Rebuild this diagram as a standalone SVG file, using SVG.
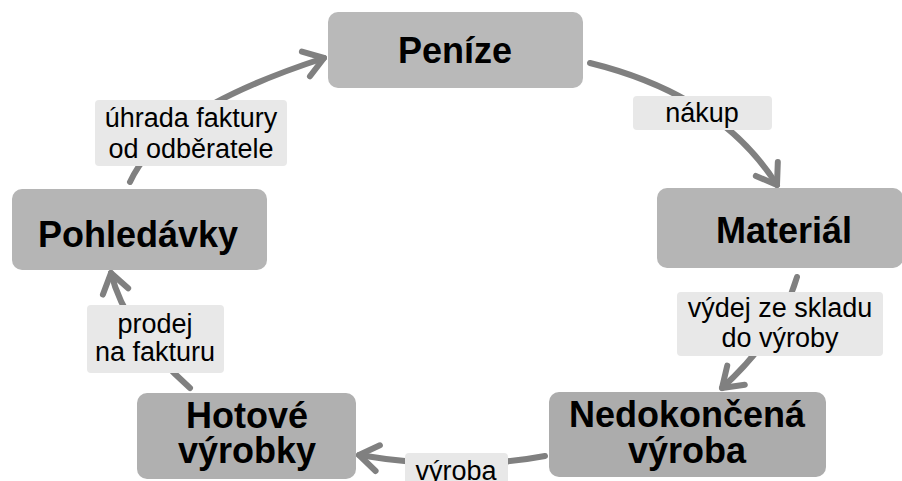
<svg xmlns="http://www.w3.org/2000/svg" width="902" height="481" viewBox="0 0 902 481">
<style>
.node rect{stroke:none}
.nt{font-family:"Liberation Sans",Arial,sans-serif;font-weight:bold;font-size:36px;fill:#000;text-anchor:middle}
.lb rect{fill:#e8e8e8}
.lt{font-family:"Liberation Sans",Arial,sans-serif;font-size:27px;fill:#000;text-anchor:middle}
.conn path{fill:none;stroke:#808080;stroke-width:6;stroke-linecap:round;marker-end:url(#arr)}
</style>
<defs>
<marker id="arr" markerUnits="userSpaceOnUse" markerWidth="40" markerHeight="40" viewBox="-30 -20 40 40" refX="0" refY="0" orient="auto" overflow="visible">
<path d="M-19,-13 L0,0 L-19,13" fill="none" stroke="#808080" stroke-width="6" stroke-linecap="round" stroke-linejoin="round"/>
</marker>
</defs>
<rect width="902" height="481" fill="#fff"/>
<g class="conn" id="connectors">
<path d="M590,63 Q720,95 777,185"/>
<path d="M797,277 Q780,335 722,388"/>
<path d="M545,456 Q460,472 359,455"/>
<path d="M190,388 Q125,330 111,273"/>
<path d="M130,182 C145,150 180,105 324,58"/>
</g>
<g class="lb" id="label-nakup"><rect x="633" y="96" width="139" height="34" rx="4"/><text class="lt" x="702" y="122">nákup</text></g>
<g class="lb" id="label-vydej"><rect x="677" y="292" width="206" height="64" rx="4"/><text class="lt" x="780" y="317">výdej ze skladu</text><text class="lt" x="780" y="347">do výroby</text></g>
<g class="lb" id="label-vyroba"><rect x="405" y="453" width="103" height="35" rx="4"/><text class="lt" x="456" y="480">výroba</text></g>
<g class="lb" id="label-prodej"><rect x="87" y="305" width="137" height="68" rx="4"/><text class="lt" x="155" y="333">prodej</text><text class="lt" x="155" y="361">na fakturu</text></g>
<g class="lb" id="label-uhrada"><rect x="95" y="100" width="192" height="66" rx="4"/><text class="lt" x="191" y="127">úhrada faktury</text><text class="lt" x="191" y="158">od odběratele</text></g>
<g class="node" id="node-penize"><rect x="328" y="12" width="255" height="76" rx="10" fill="#b9b9b9"/><text class="nt" x="455" y="63">Peníze</text></g>
<g class="node" id="node-material"><rect x="657" y="188" width="246" height="80" rx="10" fill="#b5b5b5"/><text class="nt" x="784" y="243">Materiál</text></g>
<g class="node" id="node-nedokoncena"><rect x="549" y="392" width="277" height="85" rx="10" fill="#acacac"/><text class="nt" x="687" y="427">Nedokončená</text><text class="nt" x="687" y="463">výroba</text></g>
<g class="node" id="node-hotove"><rect x="137" y="393" width="219" height="86" rx="10" fill="#b0b0b0"/><text class="nt" x="247" y="428">Hotové</text><text class="nt" x="247" y="463">výrobky</text></g>
<g class="node" id="node-pohledavky"><rect x="12" y="189" width="255" height="81" rx="10" fill="#b5b5b5"/><text class="nt" x="138" y="247">Pohledávky</text></g>
</svg>
